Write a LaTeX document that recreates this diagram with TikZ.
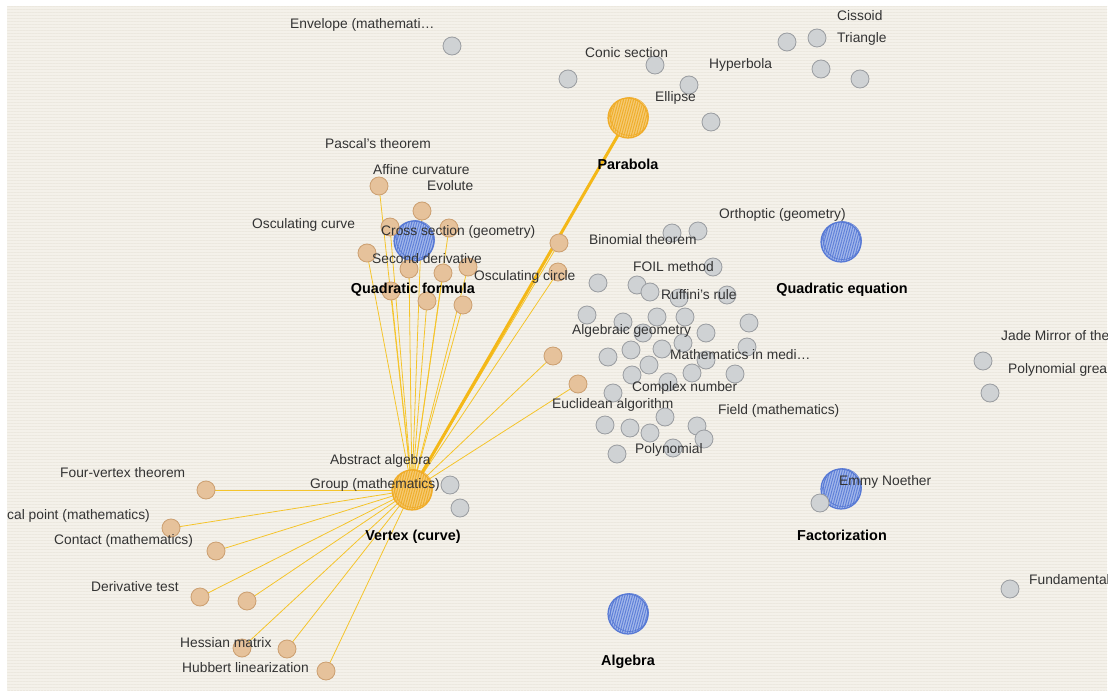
\documentclass[tikz,border=0pt]{standalone}
\usepackage{fontspec}
\setmainfont{Liberation Sans}
\usetikzlibrary{patterns.meta}
\definecolor{bgc}{HTML}{F4F1EA}
\definecolor{stripe}{HTML}{ECE8DF}
\definecolor{txt}{HTML}{333333}
\definecolor{gfill}{HTML}{CFD2D4}
\definecolor{gedge}{HTML}{9A9DA1}
\definecolor{ofill}{HTML}{E6C29B}
\definecolor{oedge}{HTML}{CC9F70}
\definecolor{obfill}{HTML}{F6CB74}
\definecolor{obhatch}{HTML}{EFAE2C}
\definecolor{obedge}{HTML}{F0AC28}
\definecolor{bfill}{HTML}{A3B8EB}
\definecolor{bhatch}{HTML}{5F80D8}
\definecolor{bedge}{HTML}{5678D4}
\definecolor{linkc}{HTML}{F5C42A}
\definecolor{thickc}{HTML}{F4B818}
\pgfdeclarelayer{back}
\pgfdeclarelayer{links}
\pgfsetlayers{back,links,main}
\tikzset{
  gnode/.style={circle, minimum size=18pt, inner sep=0pt, fill=gfill, draw=gedge, line width=0.8pt},
  onode/.style={circle, minimum size=18pt, inner sep=0pt, fill=ofill, draw=oedge, line width=0.8pt},
  orbig/.style={circle, minimum size=40pt, inner sep=0pt, draw=obedge, line width=1.2pt,
     preaction={fill=obfill}, pattern={Lines[angle=75,distance=2.4pt,line width=1pt]}, pattern color=obhatch},
  blbig/.style={circle, minimum size=40pt, inner sep=0pt, draw=bedge, line width=1.2pt,
     preaction={fill=bfill}, pattern={Lines[angle=75,distance=2.4pt,line width=1pt]}, pattern color=bhatch},
  lbl/.style={anchor=base west, yshift=-4.7pt, inner sep=0pt, text=txt, font=\fontsize{13.8}{16}\selectfont},
  blbl/.style={anchor=base, yshift=-5pt, inner sep=0pt, text=black, font=\fontsize{14.4}{16}\selectfont\bfseries},
  link/.style={draw=linkc, line width=0.8pt},
  thicklink/.style={draw=thickc, line width=3pt},
}
\begin{document}
\begin{tikzpicture}[x=1pt,y=-1pt]
\useasboundingbox (0,0) rectangle (1112,693);
\begin{pgfonlayer}{back}
\fill[white] (0,0) rectangle (1112,693);
\fill[bgc] (7,6) rectangle (1107,690);
\fill[pattern={Lines[angle=0,distance=3pt,line width=0.6pt]}, pattern color=stripe] (7,6) rectangle (1107,690);
\end{pgfonlayer}
\begin{scope}
\clip (7,6) rectangle (1107,690);
% big nodes
\node[orbig] (parabola) at (628,118) {};
\node[blbig] (qf) at (414,241) {};
\node[blbig] (qe) at (841,242) {};
\node[blbig] (fact) at (841,489) {};
\node[blbig] (alg) at (628,614) {};
\node[orbig] (vertex) at (412,490) {};
\draw[obedge, line width=0.6pt] (629.5,116.5) circle[radius=19pt];
\draw[bedge, line width=0.6pt] (415.5,239.5) circle[radius=19pt];
\draw[bedge, line width=0.6pt] (842.5,240.5) circle[radius=19pt];
\draw[bedge, line width=0.6pt] (842.5,487.5) circle[radius=19pt];
\draw[bedge, line width=0.6pt] (629.5,612.5) circle[radius=19pt];
\draw[obedge, line width=0.6pt] (413.5,488.5) circle[radius=19pt];
% gray nodes
\foreach \n/\x/\y in {g1/452/46, g2/568/79, g3/655/65, g4/689/85, g5/711/122, g6/787/42, g7/817/38, g8/821/69, g9/860/79,
  g10/672/233, g11/698/231, g12/713/267, g13/598/283, g14/637/285, g15/650/292, g16/679/298, g17/727/295,
  g18/587/315, g19/623/322, g20/657/317, g21/685/317, g22/749/323, g23/706/333, g24/643/333,
  g25/608/357, g26/631/350, g27/662/349, g28/683/343, g29/747/347, g30/706/360, g31/649/365,
  g32/632/375, g33/692/373, g34/735/374, g35/668/382, g36/613/393,
  g37/665/417, g38/605/425, g39/630/428, g40/650/433, g41/697/426, g42/704/439, g43/673/448, g44/617/454,
  g45/450/485, g46/460/508, g47/983/361, g48/990/393, g49/1010/589, g50/820/503}
  {\node[gnode] (\n) at (\x,\y) {};}
% orange nodes
\foreach \n/\x/\y in {o1/206/490, o2/171/528, o3/216/551, o4/200/597, o5/247/601, o6/242/648, o7/287/649, o8/326/671,
  o9/379/186, o10/422/211, o11/390/227, o12/449/228, o13/367/253, o14/409/269, o15/443/273, o16/468/267,
  o17/391/291, o18/427/301, o19/463/305, o20/559/243, o21/558/272, o22/553/356, o23/578/384}
  {\node[onode] (\n) at (\x,\y) {};}
% labels
\node[lbl] (l1) at (290,24) {Envelope (mathemati…};
\node[lbl] (l2) at (585,53) {Conic section};
\node[lbl] (l3) at (709,64) {Hyperbola};
\node[lbl] (l4) at (655,97) {Ellipse};
\node[lbl] (l5) at (837,16) {Cissoid};
\node[lbl] (l6) at (837,38) {Triangle};
\node[lbl] (l7) at (325,144) {Pascal’s theorem};
\node[lbl] (l8) at (373,170) {Affine curvature};
\node[lbl] (l9) at (427,186) {Evolute};
\node[lbl] (l10) at (252,224) {Osculating curve};
\node[lbl] (l11) at (381,231) {Cross section (geometry)};
\node[lbl] (l12) at (372,259) {Second derivative};
\node[lbl] (l13) at (474,276) {Osculating circle};
\node[lbl] (l14) at (589,240) {Binomial theorem};
\node[lbl] (l15) at (719,214) {Orthoptic (geometry)};
\node[lbl] (l16) at (633,267) {FOIL method};
\node[lbl] (l17) at (661,295) {Ruffini’s rule};
\node[lbl] (l18) at (572,330) {Algebraic geometry};
\node[lbl] (l19) at (670,355) {Mathematics in medi…};
\node[lbl] (l20) at (632,387) {Complex number};
\node[lbl] (l21) at (552,404) {Euclidean algorithm};
\node[lbl] (l22) at (718,410) {Field (mathematics)};
\node[lbl] (l23) at (635,449) {Polynomial};
\node[lbl] (l24) at (1001,336) {Jade Mirror of the};
\node[lbl] (l25) at (1008,369) {Polynomial grea};
\node[lbl] (l26) at (839,481) {Emmy Noether};
\node[lbl] (l27) at (1029,580) {Fundamental};
\node[lbl] (l28) at (330,460) {Abstract algebra};
\node[lbl] (l29) at (310,484) {Group (mathematics)};
\node[lbl] (l30) at (60,473) {Four-vertex theorem};
\node[lbl] (l31) at (7,515) {cal point (mathematics)};
\node[lbl] (l32) at (54,540) {Contact (mathematics)};
\node[lbl] (l33) at (91,587) {Derivative test};
\node[lbl] (l34) at (180,643) {Hessian matrix};
\node[lbl] (l35) at (182,668) {Hubbert linearization};
\node[blbl] (b1) at (628,164) {Parabola};
\node[blbl] (b2) at (413,288) {Quadratic formula};
\node[blbl] (b3) at (842,288) {Quadratic equation};
\node[blbl] (b4) at (413,535) {Vertex (curve)};
\node[blbl] (b5) at (842,535) {Factorization};
\node[blbl] (b6) at (628,660) {Algebra};
\end{scope}
\begin{pgfonlayer}{links}
\foreach \o in {o1,o2,o3,o4,o5,o6,o7,o8,o9,o10,o11,o12,o13,o14,o15,o16,o17,o18,o19,o20,o21,o22,o23}
  {\draw[link] (vertex.center) -- (\o.center);}
\draw[thicklink] (vertex.center) -- (parabola.center);
\end{pgfonlayer}
\end{tikzpicture}
\end{document}
